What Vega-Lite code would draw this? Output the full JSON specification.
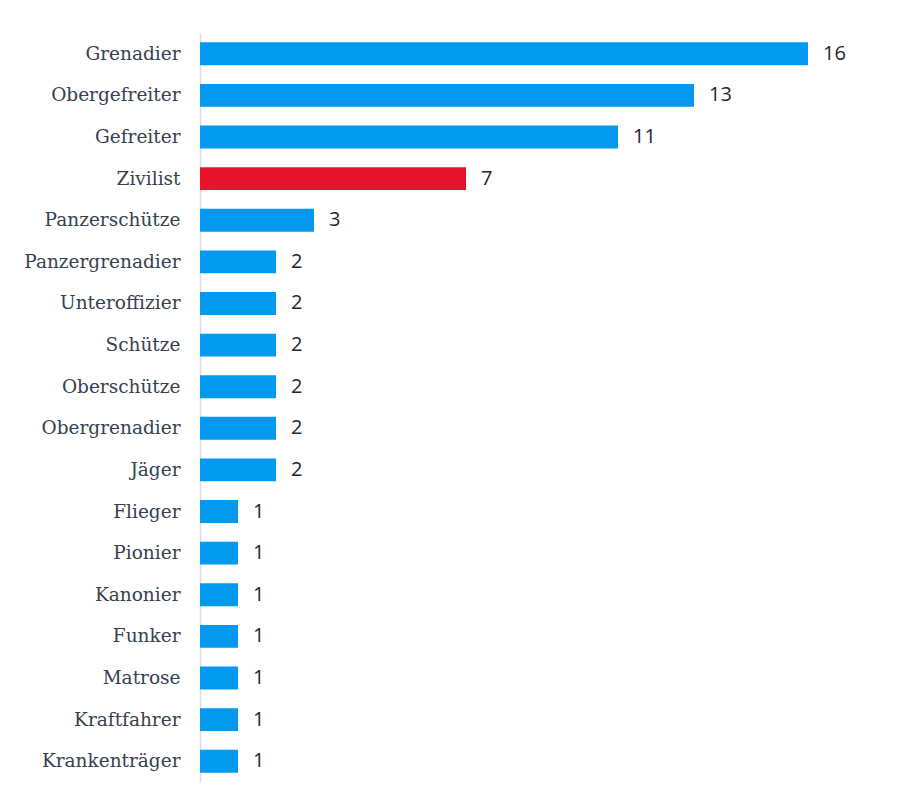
{
  "$schema": "https://vega.github.io/schema/vega-lite/v6.json",
  "autosize": {"type": "none"},
  "padding": {"left": 200, "top": 33, "right": 23, "bottom": 22},
  "width": 684,
  "height": 749,
  "background": "white",
  "config": {"view": {"stroke": null}},
  "data": {"values": [
    {"rank": "Grenadier", "n": 16, "civil": false},
    {"rank": "Obergefreiter", "n": 13, "civil": false},
    {"rank": "Gefreiter", "n": 11, "civil": false},
    {"rank": "Zivilist", "n": 7, "civil": true},
    {"rank": "Panzerschütze", "n": 3, "civil": false},
    {"rank": "Panzergrenadier", "n": 2, "civil": false},
    {"rank": "Unteroffizier", "n": 2, "civil": false},
    {"rank": "Schütze", "n": 2, "civil": false},
    {"rank": "Oberschütze", "n": 2, "civil": false},
    {"rank": "Obergrenadier", "n": 2, "civil": false},
    {"rank": "Jäger", "n": 2, "civil": false},
    {"rank": "Flieger", "n": 1, "civil": false},
    {"rank": "Pionier", "n": 1, "civil": false},
    {"rank": "Kanonier", "n": 1, "civil": false},
    {"rank": "Funker", "n": 1, "civil": false},
    {"rank": "Matrose", "n": 1, "civil": false},
    {"rank": "Kraftfahrer", "n": 1, "civil": false},
    {"rank": "Krankenträger", "n": 1, "civil": false}
  ]},
  "encoding": {
    "y": {"field": "rank", "type": "nominal", "sort": null,
      "scale": {"paddingInner": 0.45, "paddingOuter": 0.225},
      "axis": {"title": null, "ticks": false, "domain": true, "domainColor": "#d3e0e5", "domainWidth": 1.5,
        "labelFont": "DejaVu Serif", "labelFontSize": 18.5, "labelColor": "#34414f", "labelPadding": 20, "labelLimit": 300}},
    "x": {"field": "n", "type": "quantitative", "scale": {"domain": [0, 18], "nice": false}, "axis": null}
  },
  "layer": [
    {"mark": {"type": "bar"},
     "encoding": {"color": {"field": "civil", "type": "nominal", "scale": {"domain": [false, true], "range": ["#0399f0", "#e8132b"]}, "legend": null}}},
    {"mark": {"type": "text", "align": "left", "baseline": "middle", "dx": 15, "font": "Open Sans", "fontSize": 20, "color": "#22262c"},
     "encoding": {"text": {"field": "n", "type": "quantitative"}}}
  ]
}
